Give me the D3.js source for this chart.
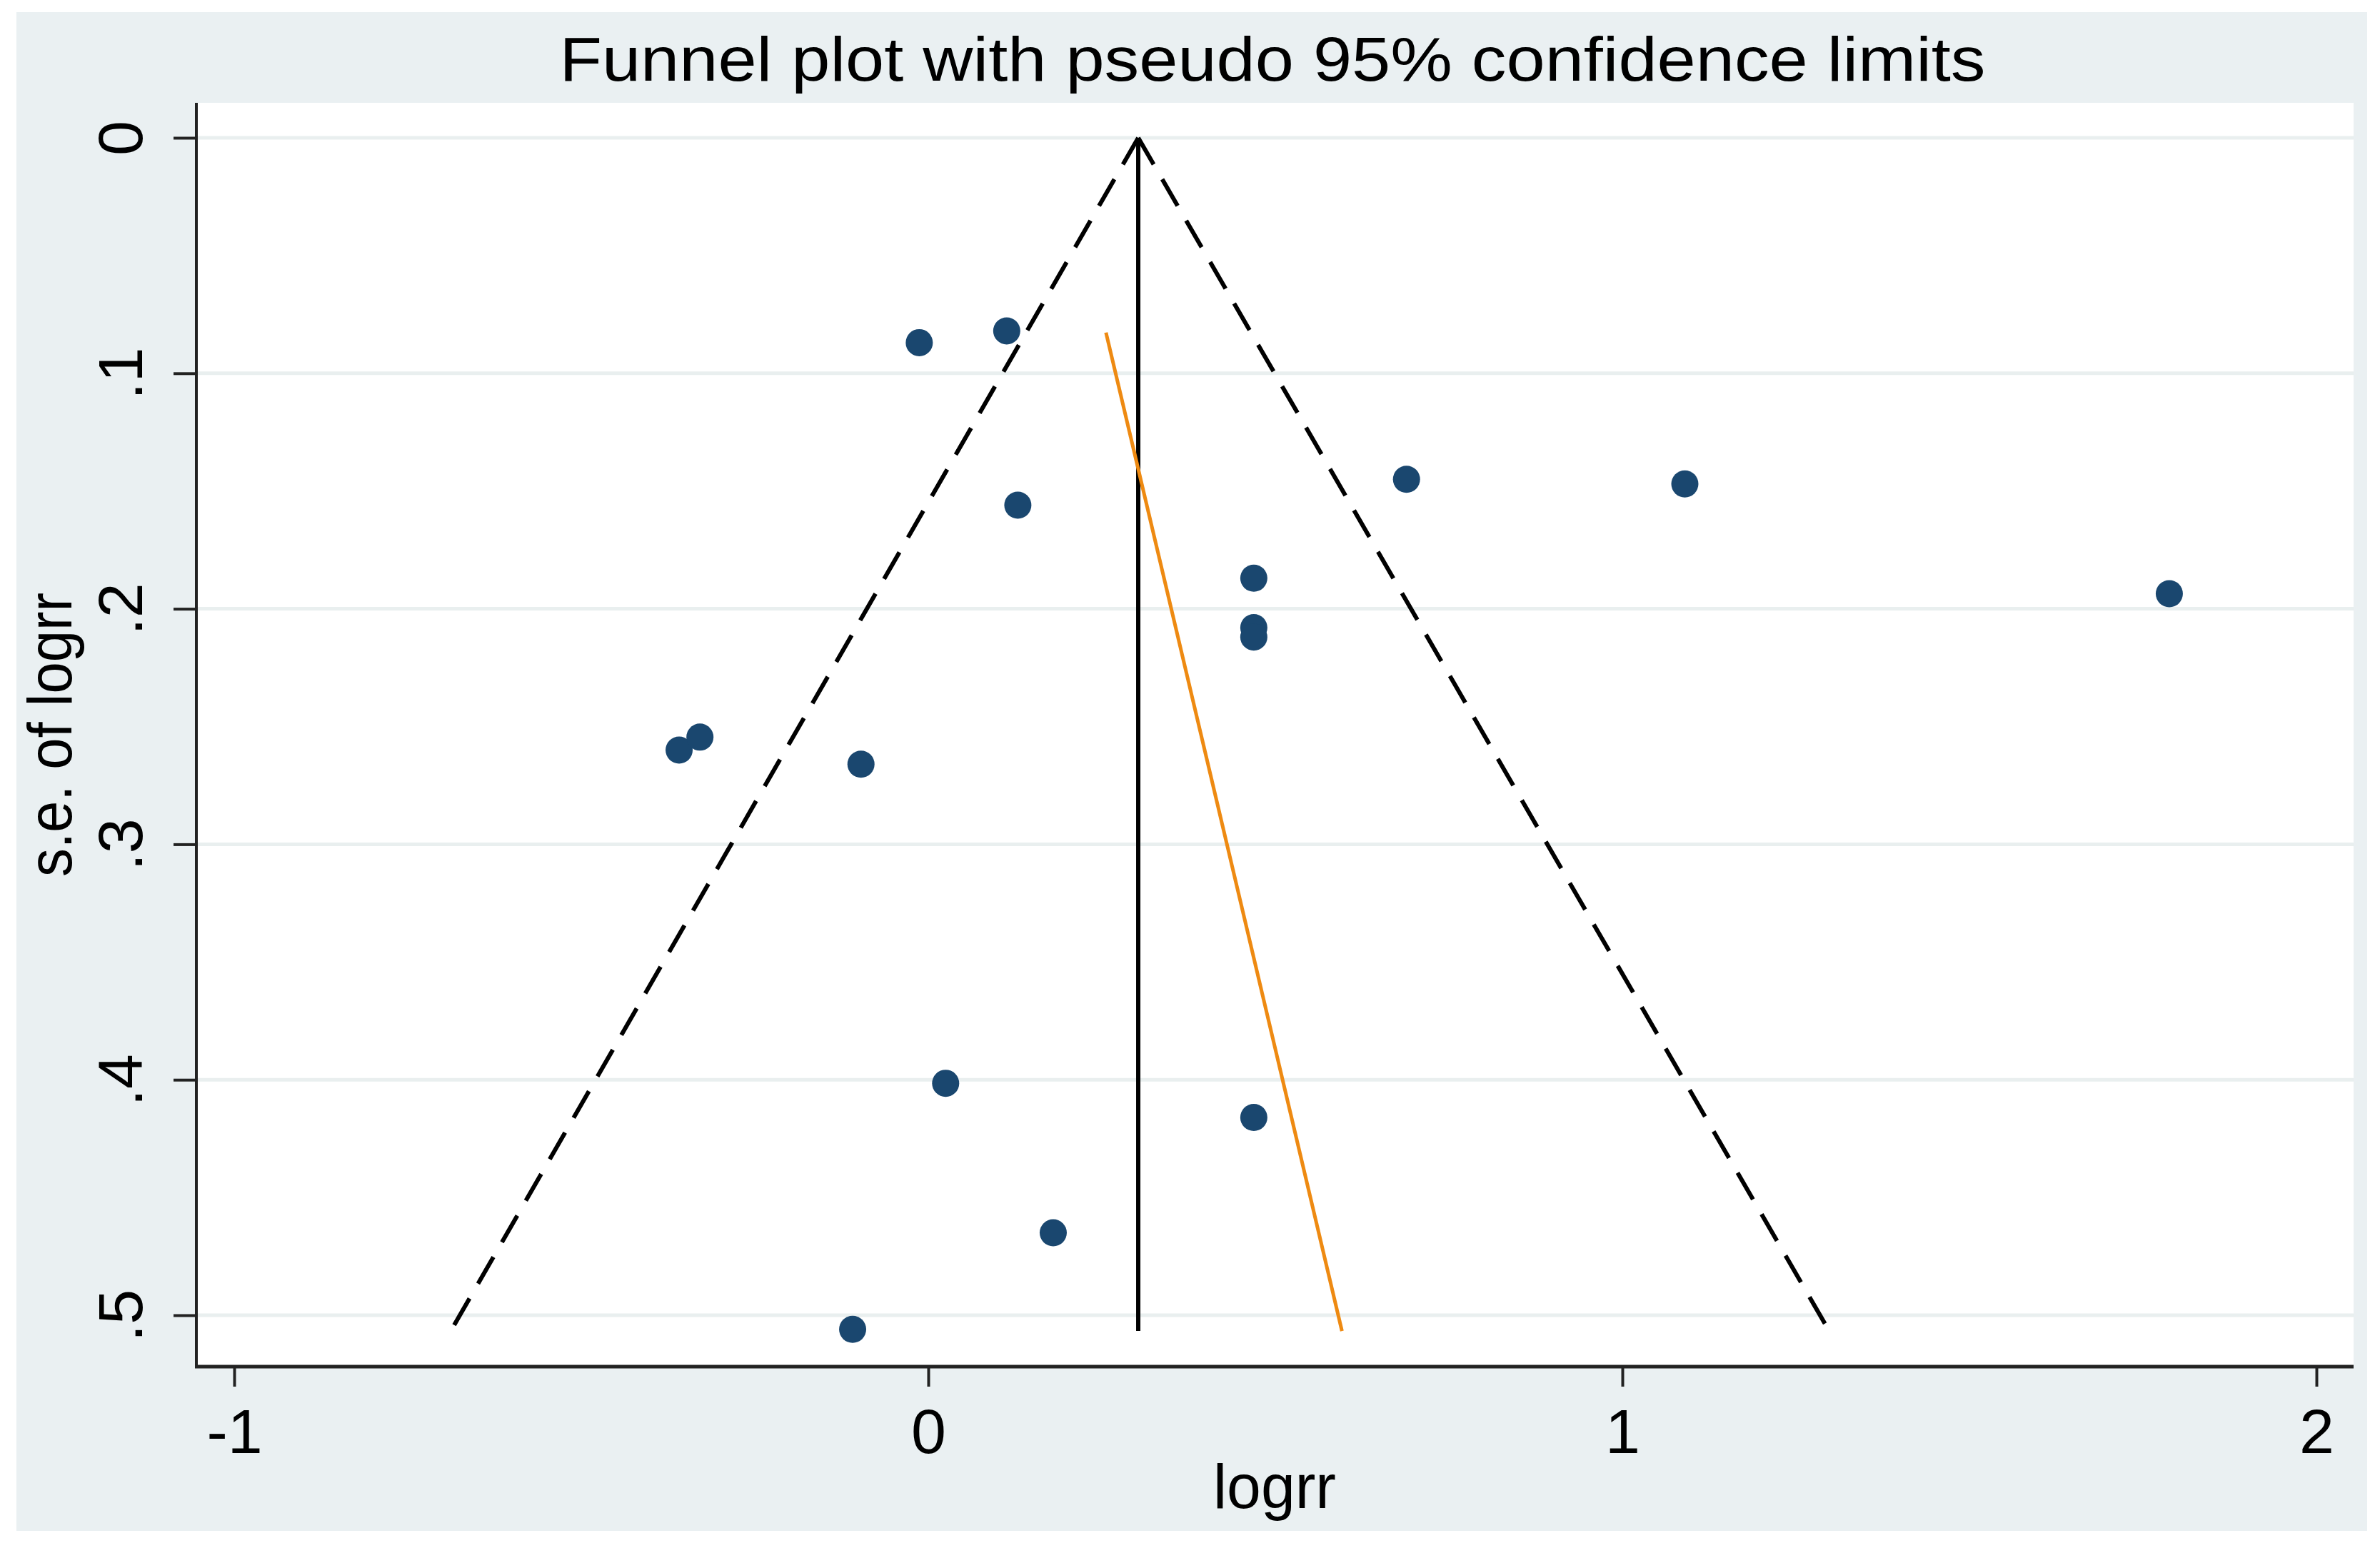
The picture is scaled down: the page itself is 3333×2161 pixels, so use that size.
<!DOCTYPE html>
<html>
<head>
<meta charset="utf-8">
<script src="https://cdn.jsdelivr.net/npm/d3@7"></script>
<style>
html,body{margin:0;padding:0;background:#ffffff;}
svg{display:block;}
text{font-family:"Liberation Sans", Arial, sans-serif;fill:#000;}
</style>
</head>
<body>
<svg id="chart" width="3333" height="2161"></svg>
<script>
// ---- data ----
const studyLogrr = [-0.013, 0.113, 0.129, 0.689, 1.090, 0.469, 0.469, 0.469, 1.788, -0.359, -0.329, -0.097, 0.025, 0.469, 0.180, -0.109];
const studySe    = [0.087, 0.082, 0.156, 0.145, 0.147, 0.187, 0.208, 0.212, 0.1936, 0.260, 0.2545, 0.266, 0.4015, 0.416, 0.465, 0.506];
const pooledLogrr = [0.3025, 0.3025];
const pooledSe    = [0, 0.5067];
const lowerLimitLogrr = [0.3025, -0.688];
const upperLimitLogrr = [0.3025, 1.298];
const limitSe         = [0, 0.5067];
const eggerLogrr = [0.256, 0.596];
const eggerSe    = [0.0827, 0.5067];
const xTicks = [-1, 0, 1, 2];
const xTickLabels = ["-1", "0", "1", "2"];
const yTicks = [0, 0.1, 0.2, 0.3, 0.4, 0.5];
const yTickLabels = ["0", ".1", ".2", ".3", ".4", ".5"];
const titleText = "Funnel plot with pseudo 95% confidence limits";
const xTitle = "logrr";
const yTitle = "s.e. of logrr";

// ---- layout ----
const svg = d3.select("#chart");
const W = 3333, H = 2161;
const plot = {left: 275, right: 3296, top: 144, bottom: 1914};

const x = d3.scaleLinear().domain([-1, 2]).range([328, 3244]);
const y = d3.scaleLinear().domain([0, 0.5]).range([193, 1842]);

// backgrounds
svg.append("rect").attr("x", 0).attr("y", 0).attr("width", W).attr("height", H).attr("fill", "#ffffff");
svg.append("rect").attr("x", 23).attr("y", 17).attr("width", 3315 - 23).attr("height", 2144 - 17).attr("fill", "#eaf0f2");
svg.append("rect").attr("x", plot.left).attr("y", plot.top)
  .attr("width", plot.right - plot.left).attr("height", plot.bottom - plot.top).attr("fill", "#ffffff");

// gridlines
svg.append("g").selectAll("line").data(yTicks).join("line")
  .attr("x1", plot.left).attr("x2", plot.right)
  .attr("y1", d => y(d)).attr("y2", d => y(d))
  .attr("stroke", "#e9efef").attr("stroke-width", 5);

// y axis
const yAxis = d3.axisLeft(y).tickValues(yTicks).tickSize(32).tickFormat((d, i) => yTickLabels[i]);
const gy = svg.append("g").attr("transform", `translate(${plot.left},0)`).call(yAxis);
gy.select(".domain").remove();
gy.selectAll(".tick line").attr("stroke", "#222").attr("stroke-width", 4);
gy.selectAll(".tick text").remove();
gy.selectAll(".tick").append("text")
  .attr("transform", "translate(-76,0) rotate(-90)")
  .attr("text-anchor", "middle")
  .attr("font-size", 88)
  .attr("fill", "#000")
  .text((d, i) => yTickLabels[i]);

// x axis
const xAxis = d3.axisBottom(x).tickValues(xTicks).tickSize(28).tickFormat((d, i) => xTickLabels[i]);
const gx = svg.append("g").attr("transform", `translate(0,${plot.bottom})`).call(xAxis);
gx.select(".domain").remove();
gx.selectAll(".tick line").attr("stroke", "#222").attr("stroke-width", 4);
gx.selectAll(".tick text").remove();
gx.selectAll(".tick").append("text")
  .attr("y", 121)
  .attr("text-anchor", "middle")
  .attr("font-size", 88)
  .attr("fill", "#000")
  .text((d, i) => xTickLabels[i]);

// axis lines
svg.append("line").attr("x1", plot.left).attr("x2", plot.left).attr("y1", plot.top).attr("y2", plot.bottom + 2)
  .attr("stroke", "#222").attr("stroke-width", 4);
svg.append("line").attr("x1", plot.left - 2).attr("x2", plot.right).attr("y1", plot.bottom).attr("y2", plot.bottom)
  .attr("stroke", "#222").attr("stroke-width", 5);

// line generator
const lineGen = d3.line().x(d => x(d[0])).y(d => y(d[1]));

// funnel limits
const lowerPts = lowerLimitLogrr.map((v, i) => [v, limitSe[i]]);
const upperPts = upperLimitLogrr.map((v, i) => [v, limitSe[i]]);
[lowerPts, upperPts].forEach(pts => {
  svg.append("path").attr("d", lineGen(pts))
    .attr("fill", "none").attr("stroke", "#000").attr("stroke-width", 6)
    .attr("stroke-dasharray", "43 24");
});

// pooled estimate line
svg.append("path").attr("d", lineGen(pooledLogrr.map((v, i) => [v, pooledSe[i]])))
  .attr("fill", "none").attr("stroke", "#000").attr("stroke-width", 6);

// egger line
svg.append("path").attr("d", lineGen(eggerLogrr.map((v, i) => [v, eggerSe[i]])))
  .attr("fill", "none").attr("stroke", "#ee8a12").attr("stroke-width", 5);

// points
svg.append("g").selectAll("circle").data(studyLogrr.map((v, i) => [v, studySe[i]])).join("circle")
  .attr("cx", d => x(d[0])).attr("cy", d => y(d[1])).attr("r", 19)
  .attr("fill", "#1a476f");

// titles
svg.append("text").attr("x", 1782).attr("y", 113).attr("text-anchor", "middle")
  .attr("font-size", 88).attr("textLength", 1997).attr("lengthAdjust", "spacingAndGlyphs")
  .text(titleText);
svg.append("text").attr("x", 1785).attr("y", 2112).attr("text-anchor", "middle")
  .attr("font-size", 88).attr("textLength", 172).attr("lengthAdjust", "spacingAndGlyphs")
  .text(xTitle);
svg.append("text").attr("transform", `translate(100,${(plot.top + plot.bottom) / 2}) rotate(-90)`)
  .attr("text-anchor", "middle").attr("font-size", 88)
  .attr("textLength", 398).attr("lengthAdjust", "spacingAndGlyphs")
  .text(yTitle);
</script>
</body>
</html>
